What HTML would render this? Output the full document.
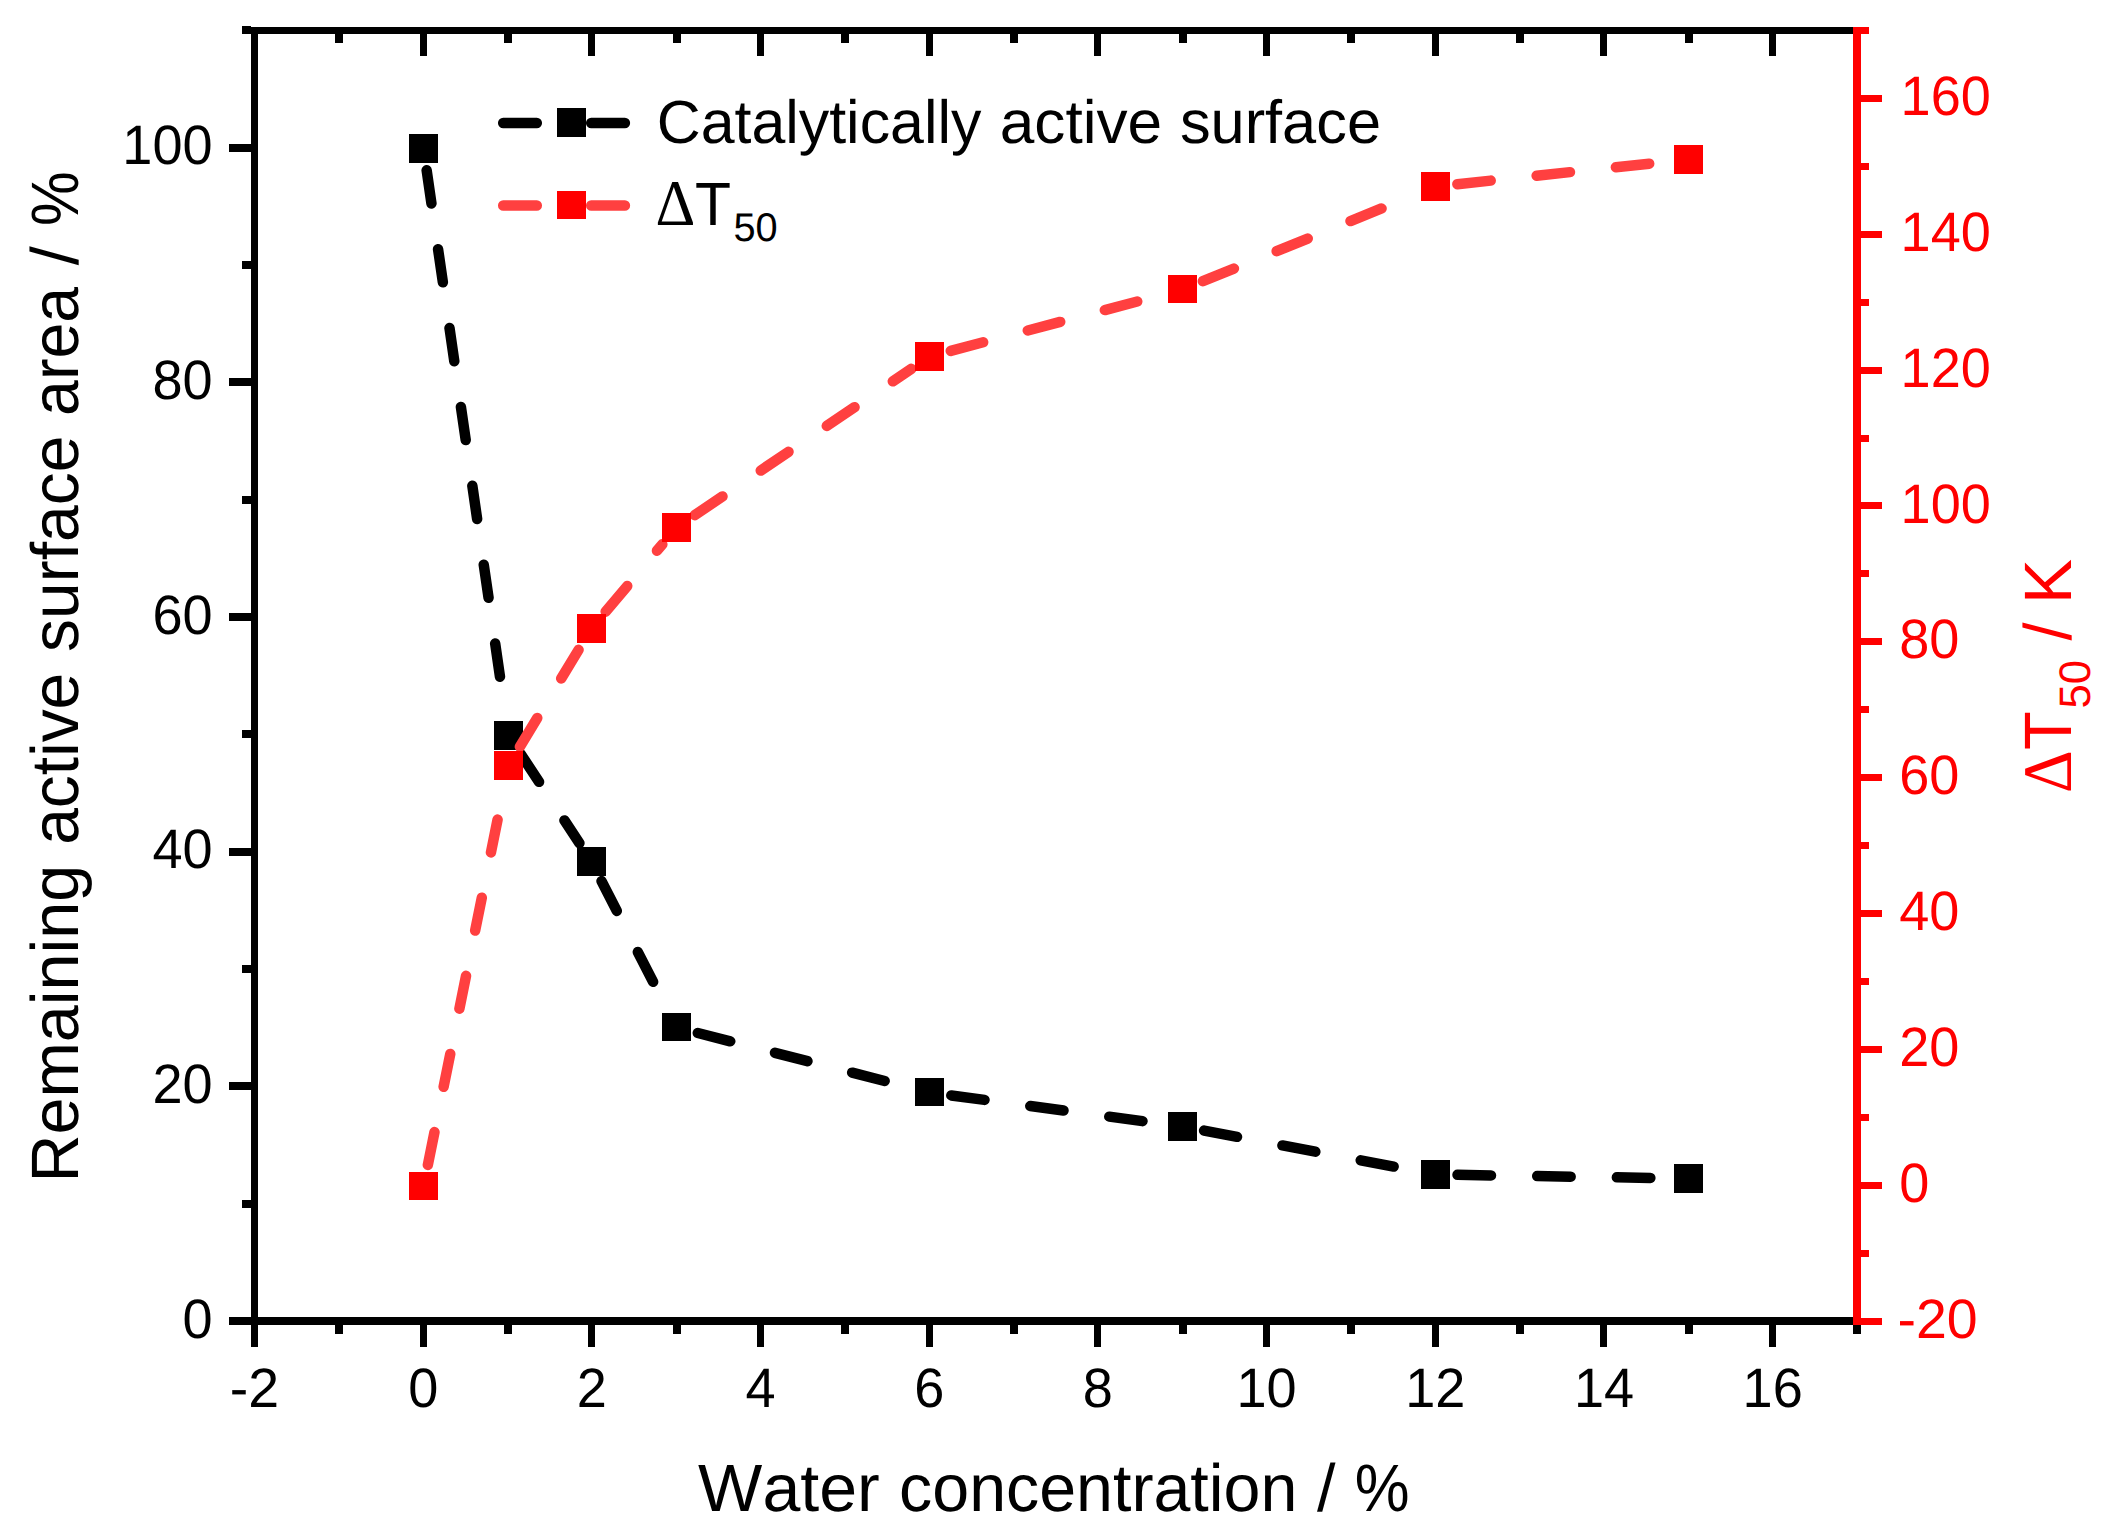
<!DOCTYPE html>
<html lang="en"><head><meta charset="utf-8"><title>Water concentration chart</title>
<style>html,body{margin:0;padding:0;background:#fff}body{width:2106px;height:1533px;overflow:hidden}</style></head>
<body>
<svg width="2106" height="1533" viewBox="0 0 2106 1533" style="display:block;font-kerning:none;text-rendering:geometricPrecision">
<rect x="0" y="0" width="2106" height="1533" fill="#ffffff"/>
<g shape-rendering="crispEdges">
<rect x="251.00" y="27.00" width="1602.00" height="7.00" fill="#000000"/>
<rect x="251.00" y="1325.00" width="7.00" height="22.00" fill="#000000"/>
<rect x="335.00" y="34.00" width="8.00" height="9.00" fill="#000000"/>
<rect x="335.00" y="1325.00" width="8.00" height="9.00" fill="#000000"/>
<rect x="420.00" y="34.00" width="7.00" height="22.00" fill="#000000"/>
<rect x="420.00" y="1325.00" width="7.00" height="22.00" fill="#000000"/>
<rect x="504.00" y="34.00" width="8.00" height="9.00" fill="#000000"/>
<rect x="504.00" y="1325.00" width="8.00" height="9.00" fill="#000000"/>
<rect x="588.00" y="34.00" width="7.00" height="22.00" fill="#000000"/>
<rect x="588.00" y="1325.00" width="7.00" height="22.00" fill="#000000"/>
<rect x="673.00" y="34.00" width="8.00" height="9.00" fill="#000000"/>
<rect x="673.00" y="1325.00" width="8.00" height="9.00" fill="#000000"/>
<rect x="757.00" y="34.00" width="7.00" height="22.00" fill="#000000"/>
<rect x="757.00" y="1325.00" width="7.00" height="22.00" fill="#000000"/>
<rect x="841.00" y="34.00" width="8.00" height="9.00" fill="#000000"/>
<rect x="841.00" y="1325.00" width="8.00" height="9.00" fill="#000000"/>
<rect x="926.00" y="34.00" width="7.00" height="22.00" fill="#000000"/>
<rect x="926.00" y="1325.00" width="7.00" height="22.00" fill="#000000"/>
<rect x="1010.00" y="34.00" width="8.00" height="9.00" fill="#000000"/>
<rect x="1010.00" y="1325.00" width="8.00" height="9.00" fill="#000000"/>
<rect x="1094.00" y="34.00" width="7.00" height="22.00" fill="#000000"/>
<rect x="1094.00" y="1325.00" width="7.00" height="22.00" fill="#000000"/>
<rect x="1179.00" y="34.00" width="8.00" height="9.00" fill="#000000"/>
<rect x="1179.00" y="1325.00" width="8.00" height="9.00" fill="#000000"/>
<rect x="1263.00" y="34.00" width="7.00" height="22.00" fill="#000000"/>
<rect x="1263.00" y="1325.00" width="7.00" height="22.00" fill="#000000"/>
<rect x="1347.00" y="34.00" width="8.00" height="9.00" fill="#000000"/>
<rect x="1347.00" y="1325.00" width="8.00" height="9.00" fill="#000000"/>
<rect x="1432.00" y="34.00" width="7.00" height="22.00" fill="#000000"/>
<rect x="1432.00" y="1325.00" width="7.00" height="22.00" fill="#000000"/>
<rect x="1516.00" y="34.00" width="8.00" height="9.00" fill="#000000"/>
<rect x="1516.00" y="1325.00" width="8.00" height="9.00" fill="#000000"/>
<rect x="1600.00" y="34.00" width="7.00" height="22.00" fill="#000000"/>
<rect x="1600.00" y="1325.00" width="7.00" height="22.00" fill="#000000"/>
<rect x="1685.00" y="34.00" width="8.00" height="9.00" fill="#000000"/>
<rect x="1685.00" y="1325.00" width="8.00" height="9.00" fill="#000000"/>
<rect x="1769.00" y="34.00" width="7.00" height="22.00" fill="#000000"/>
<rect x="1769.00" y="1325.00" width="7.00" height="22.00" fill="#000000"/>
<rect x="1853.00" y="34.00" width="8.00" height="9.00" fill="#000000"/>
<rect x="1853.00" y="1325.00" width="8.00" height="9.00" fill="#000000"/>
<rect x="251.00" y="1317.00" width="1606.00" height="8.00" fill="#000000"/>
<rect x="251.00" y="27.00" width="7.00" height="1320.00" fill="#000000"/>
<rect x="229.00" y="1317.00" width="22.00" height="8.00" fill="#000000"/>
<rect x="242.00" y="1200.00" width="9.00" height="8.00" fill="#000000"/>
<rect x="229.00" y="1082.00" width="22.00" height="8.00" fill="#000000"/>
<rect x="242.00" y="965.00" width="9.00" height="8.00" fill="#000000"/>
<rect x="229.00" y="848.00" width="22.00" height="8.00" fill="#000000"/>
<rect x="242.00" y="730.00" width="9.00" height="8.00" fill="#000000"/>
<rect x="229.00" y="613.00" width="22.00" height="8.00" fill="#000000"/>
<rect x="242.00" y="496.00" width="9.00" height="8.00" fill="#000000"/>
<rect x="229.00" y="378.00" width="22.00" height="8.00" fill="#000000"/>
<rect x="242.00" y="261.00" width="9.00" height="8.00" fill="#000000"/>
<rect x="229.00" y="144.00" width="22.00" height="8.00" fill="#000000"/>
<rect x="242.00" y="26.00" width="9.00" height="8.00" fill="#000000"/>
<rect x="1853.00" y="27.00" width="8.00" height="1298.00" fill="#ff0000"/>
<rect x="1861.00" y="1318.00" width="21.00" height="7.00" fill="#ff0000"/>
<rect x="1861.00" y="1250.00" width="8.00" height="7.00" fill="#ff0000"/>
<rect x="1861.00" y="1182.00" width="21.00" height="7.00" fill="#ff0000"/>
<rect x="1861.00" y="1114.00" width="8.00" height="7.00" fill="#ff0000"/>
<rect x="1861.00" y="1046.00" width="21.00" height="7.00" fill="#ff0000"/>
<rect x="1861.00" y="978.00" width="8.00" height="7.00" fill="#ff0000"/>
<rect x="1861.00" y="910.00" width="21.00" height="7.00" fill="#ff0000"/>
<rect x="1861.00" y="842.00" width="8.00" height="7.00" fill="#ff0000"/>
<rect x="1861.00" y="774.00" width="21.00" height="7.00" fill="#ff0000"/>
<rect x="1861.00" y="706.00" width="8.00" height="7.00" fill="#ff0000"/>
<rect x="1861.00" y="638.00" width="21.00" height="7.00" fill="#ff0000"/>
<rect x="1861.00" y="570.00" width="8.00" height="7.00" fill="#ff0000"/>
<rect x="1861.00" y="502.00" width="21.00" height="7.00" fill="#ff0000"/>
<rect x="1861.00" y="435.00" width="8.00" height="7.00" fill="#ff0000"/>
<rect x="1861.00" y="367.00" width="21.00" height="7.00" fill="#ff0000"/>
<rect x="1861.00" y="299.00" width="8.00" height="7.00" fill="#ff0000"/>
<rect x="1861.00" y="231.00" width="21.00" height="7.00" fill="#ff0000"/>
<rect x="1861.00" y="163.00" width="8.00" height="7.00" fill="#ff0000"/>
<rect x="1861.00" y="95.00" width="21.00" height="7.00" fill="#ff0000"/>
<rect x="1861.00" y="27.00" width="8.00" height="7.00" fill="#ff0000"/>
</g>
<path d="M426.65 170.27L431.45 203.43M438.07 249.15L442.88 282.30M449.50 328.03L454.30 361.18M460.92 406.90L465.72 440.06M472.34 485.78L477.14 518.94M483.76 564.66L488.56 597.81M495.18 643.54L499.98 676.69M520.60 753.87L539.03 781.85M564.45 820.43L579.40 843.13M601.53 881.08L616.80 910.90M637.85 952.02L653.12 981.84M697.81 1032.97L730.25 1041.31M775.00 1052.81L807.45 1061.14M852.19 1072.64L884.64 1080.97M951.30 1095.43L984.51 1099.89M1030.29 1106.05L1063.50 1110.51M1109.28 1116.66L1142.49 1121.12M1204.11 1130.60L1237.03 1136.85M1282.42 1145.46L1315.33 1151.70M1360.72 1160.31L1393.63 1166.56M1457.50 1174.85L1490.99 1175.38M1537.19 1176.11L1570.68 1176.64M1616.88 1177.37L1650.37 1177.90" fill="none" stroke="#000000" stroke-width="10.5" stroke-linecap="round"/>
<g shape-rendering="crispEdges">
<rect x="409.00" y="134.00" width="29.00" height="29.00" fill="#000000"/>
<rect x="494.00" y="721.00" width="29.00" height="29.00" fill="#000000"/>
<rect x="577.00" y="847.00" width="29.00" height="29.00" fill="#000000"/>
<rect x="662.00" y="1013.00" width="29.00" height="28.00" fill="#000000"/>
<rect x="915.00" y="1078.00" width="29.00" height="28.00" fill="#000000"/>
<rect x="1168.00" y="1112.00" width="29.00" height="29.00" fill="#000000"/>
<rect x="1421.00" y="1160.00" width="29.00" height="29.00" fill="#000000"/>
<rect x="1674.00" y="1164.00" width="29.00" height="29.00" fill="#000000"/>
</g>
<path d="M427.85 1164.94L434.48 1132.10M443.63 1086.81L450.26 1053.97M459.40 1008.69L466.03 975.85M475.17 930.56L481.80 897.73M490.95 852.44L497.58 819.60M519.90 746.68L537.26 718.03M561.20 678.52L578.56 649.87M605.67 611.67L627.24 586.04M656.98 550.69L662.33 544.33M694.73 515.18L722.48 496.42M760.76 470.55L788.51 451.79M826.79 425.92L854.55 407.16M892.82 381.29L911.27 368.82M950.77 350.87L983.15 342.29M1027.81 330.47L1060.19 321.89M1104.86 310.06L1137.24 301.49M1202.88 281.20L1233.90 268.57M1276.69 251.15L1307.72 238.52M1350.51 221.10L1381.54 208.47M1457.38 184.17L1490.69 180.61M1536.63 175.71L1569.94 172.15M1615.88 167.25L1649.19 163.70" fill="none" stroke="#ff4040" stroke-width="10.5" stroke-linecap="round"/>
<g shape-rendering="crispEdges">
<rect x="409.00" y="1172.00" width="29.00" height="28.00" fill="#ff0000"/>
<rect x="494.00" y="751.00" width="29.00" height="29.00" fill="#ff0000"/>
<rect x="577.00" y="614.00" width="29.00" height="29.00" fill="#ff0000"/>
<rect x="662.00" y="513.00" width="29.00" height="29.00" fill="#ff0000"/>
<rect x="915.00" y="342.00" width="29.00" height="29.00" fill="#ff0000"/>
<rect x="1168.00" y="275.00" width="29.00" height="28.00" fill="#ff0000"/>
<rect x="1421.00" y="172.00" width="29.00" height="29.00" fill="#ff0000"/>
<rect x="1674.00" y="145.00" width="29.00" height="29.00" fill="#ff0000"/>
</g>
<path d="M503.2 123L536.8 123M591.2 123L624.9 123" fill="none" stroke="#000000" stroke-width="10.5" stroke-linecap="round"/>
<rect x="557.00" y="108.00" width="29.00" height="29.00" fill="#000000" shape-rendering="crispEdges"/>
<path d="M503.2 205.5L536.8 205.5M591.2 205.5L624.9 205.5" fill="none" stroke="#ff4040" stroke-width="10.5" stroke-linecap="round"/>
<rect x="557.00" y="191.00" width="29.00" height="28.00" fill="#ff0000" shape-rendering="crispEdges"/>
<text font-family="'Liberation Sans', Arial, sans-serif" font-size="61" fill="#000"><tspan x="656.71" y="142.70" textLength="324.69" lengthAdjust="spacingAndGlyphs">Catalytically</tspan> <tspan x="999.76" y="142.70" textLength="162.40" lengthAdjust="spacingAndGlyphs">active</tspan> <tspan x="1179.89" y="142.70" textLength="201.14" lengthAdjust="spacingAndGlyphs">surface</tspan></text>
<text font-family="'Liberation Sans', Arial, sans-serif" font-size="61" fill="#000"><tspan x="655.59" y="224.90" textLength="39.82" lengthAdjust="spacingAndGlyphs" font-size="65" font-family="'Liberation Serif', serif">Δ</tspan><tspan x="695.03" y="224.90" textLength="35.98" lengthAdjust="spacingAndGlyphs">T</tspan><tspan x="733.41" y="241.30" textLength="44.23" lengthAdjust="spacingAndGlyphs" font-size="40">50</tspan></text>
<text transform="translate(254.5 1406.8) scale(1.0 1)" font-family="'Liberation Sans', Arial, sans-serif" font-size="55.5" text-anchor="middle" fill="#000">-2</text>
<text transform="translate(423.2 1406.8) scale(0.975 1)" font-family="'Liberation Sans', Arial, sans-serif" font-size="55.5" text-anchor="middle" fill="#000">0</text>
<text transform="translate(591.9 1406.8) scale(0.975 1)" font-family="'Liberation Sans', Arial, sans-serif" font-size="55.5" text-anchor="middle" fill="#000">2</text>
<text transform="translate(760.6 1406.8) scale(0.975 1)" font-family="'Liberation Sans', Arial, sans-serif" font-size="55.5" text-anchor="middle" fill="#000">4</text>
<text transform="translate(929.2 1406.8) scale(0.975 1)" font-family="'Liberation Sans', Arial, sans-serif" font-size="55.5" text-anchor="middle" fill="#000">6</text>
<text transform="translate(1097.9 1406.8) scale(0.975 1)" font-family="'Liberation Sans', Arial, sans-serif" font-size="55.5" text-anchor="middle" fill="#000">8</text>
<text transform="translate(1266.6 1406.8) scale(0.975 1)" font-family="'Liberation Sans', Arial, sans-serif" font-size="55.5" text-anchor="middle" fill="#000">10</text>
<text transform="translate(1435.3 1406.8) scale(0.975 1)" font-family="'Liberation Sans', Arial, sans-serif" font-size="55.5" text-anchor="middle" fill="#000">12</text>
<text transform="translate(1604.0 1406.8) scale(0.975 1)" font-family="'Liberation Sans', Arial, sans-serif" font-size="55.5" text-anchor="middle" fill="#000">14</text>
<text transform="translate(1772.7 1406.8) scale(0.975 1)" font-family="'Liberation Sans', Arial, sans-serif" font-size="55.5" text-anchor="middle" fill="#000">16</text>
<text transform="translate(212.6 1337.6) scale(0.975 1)" font-family="'Liberation Sans', Arial, sans-serif" font-size="55.5" text-anchor="end" fill="#000">0</text>
<text transform="translate(212.6 1103.0) scale(0.975 1)" font-family="'Liberation Sans', Arial, sans-serif" font-size="55.5" text-anchor="end" fill="#000">20</text>
<text transform="translate(212.6 868.3) scale(0.975 1)" font-family="'Liberation Sans', Arial, sans-serif" font-size="55.5" text-anchor="end" fill="#000">40</text>
<text transform="translate(212.6 633.7) scale(0.975 1)" font-family="'Liberation Sans', Arial, sans-serif" font-size="55.5" text-anchor="end" fill="#000">60</text>
<text transform="translate(212.6 399.1) scale(0.975 1)" font-family="'Liberation Sans', Arial, sans-serif" font-size="55.5" text-anchor="end" fill="#000">80</text>
<text transform="translate(212.6 164.4) scale(0.975 1)" font-family="'Liberation Sans', Arial, sans-serif" font-size="55.5" text-anchor="end" fill="#000">100</text>
<text transform="translate(1897.4 1337.6) scale(1.0 1)" font-family="'Liberation Sans', Arial, sans-serif" font-size="55.5" text-anchor="start" fill="#ff0000">-20</text>
<text transform="translate(1899.2 1201.8) scale(0.975 1)" font-family="'Liberation Sans', Arial, sans-serif" font-size="55.5" text-anchor="start" fill="#ff0000">0</text>
<text transform="translate(1899.2 1065.9) scale(0.975 1)" font-family="'Liberation Sans', Arial, sans-serif" font-size="55.5" text-anchor="start" fill="#ff0000">20</text>
<text transform="translate(1899.2 930.1) scale(0.975 1)" font-family="'Liberation Sans', Arial, sans-serif" font-size="55.5" text-anchor="start" fill="#ff0000">40</text>
<text transform="translate(1899.2 794.2) scale(0.975 1)" font-family="'Liberation Sans', Arial, sans-serif" font-size="55.5" text-anchor="start" fill="#ff0000">60</text>
<text transform="translate(1899.2 658.4) scale(0.975 1)" font-family="'Liberation Sans', Arial, sans-serif" font-size="55.5" text-anchor="start" fill="#ff0000">80</text>
<text transform="translate(1900.6 522.5) scale(0.975 1)" font-family="'Liberation Sans', Arial, sans-serif" font-size="55.5" text-anchor="start" fill="#ff0000">100</text>
<text transform="translate(1900.6 386.7) scale(0.975 1)" font-family="'Liberation Sans', Arial, sans-serif" font-size="55.5" text-anchor="start" fill="#ff0000">120</text>
<text transform="translate(1900.6 250.9) scale(0.975 1)" font-family="'Liberation Sans', Arial, sans-serif" font-size="55.5" text-anchor="start" fill="#ff0000">140</text>
<text transform="translate(1900.6 115.0) scale(0.975 1)" font-family="'Liberation Sans', Arial, sans-serif" font-size="55.5" text-anchor="start" fill="#ff0000">160</text>
<text font-family="'Liberation Sans', Arial, sans-serif" font-size="67" fill="#000"><tspan x="698.10" y="1510.80" textLength="181.72" lengthAdjust="spacingAndGlyphs">Water</tspan> <tspan x="899.12" y="1510.80" textLength="398.20" lengthAdjust="spacingAndGlyphs">concentration</tspan> <tspan x="1317.10" y="1510.80" textLength="18.52" lengthAdjust="spacingAndGlyphs">/</tspan> <tspan x="1354.86" y="1510.80" textLength="54.79" lengthAdjust="spacingAndGlyphs">%</tspan></text>
<text transform="translate(77.9 0) rotate(-90)" font-family="'Liberation Sans', Arial, sans-serif" font-size="67" fill="#000"><tspan x="-1182.56" y="0.00" textLength="317.79" lengthAdjust="spacingAndGlyphs">Remaining</tspan> <tspan x="-844.87" y="0.00" textLength="172.09" lengthAdjust="spacingAndGlyphs">active</tspan> <tspan x="-651.98" y="0.00" textLength="216.31" lengthAdjust="spacingAndGlyphs">surface</tspan> <tspan x="-415.92" y="0.00" textLength="129.01" lengthAdjust="spacingAndGlyphs">area</tspan> <tspan x="-265.20" y="0.00" textLength="18.91" lengthAdjust="spacingAndGlyphs">/</tspan> <tspan x="-225.94" y="0.00" textLength="54.68" lengthAdjust="spacingAndGlyphs">%</tspan></text>
<text transform="translate(2071 0) rotate(-90)" font-family="'Liberation Sans', Arial, sans-serif" font-size="67" fill="#ff0000"><tspan x="-793.11" y="0.00" textLength="42.73" lengthAdjust="spacingAndGlyphs" font-size="69.5" font-family="'Liberation Serif', serif">Δ</tspan><tspan x="-750.04" y="0.00" textLength="38.62" lengthAdjust="spacingAndGlyphs">T</tspan><tspan x="-708.59" y="19.00" textLength="48.55" lengthAdjust="spacingAndGlyphs" font-size="44">50</tspan> <tspan x="-640.50" y="0.00" textLength="18.12" lengthAdjust="spacingAndGlyphs">/</tspan> <tspan x="-603.93" y="0.00" textLength="44.92" lengthAdjust="spacingAndGlyphs">K</tspan></text>
</svg>
</body></html>
